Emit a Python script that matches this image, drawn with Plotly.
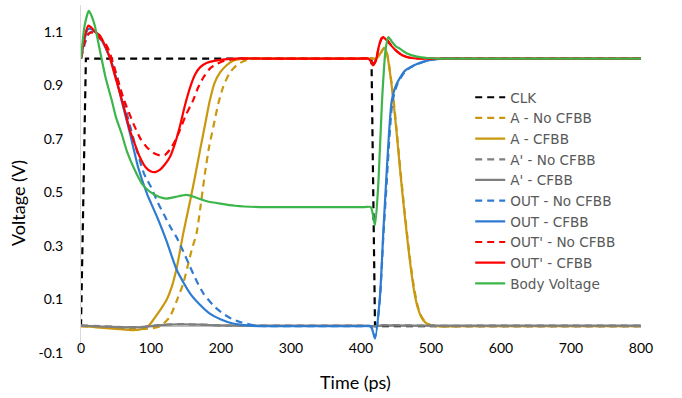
import plotly.graph_objects as go

# ---- data (time in ps, voltage in V) ----
clk_t = [0, 7, 415, 420, 800]
clk_v = [0, 1.0, 1.0, 0, 0]

a_no_t = [0, 40, 80, 100, 113, 120, 127, 136, 146, 152, 158, 165, 170, 177, 183, 189, 196, 203, 212, 222, 232, 241, 255,
          290, 330, 370, 400, 410, 415, 422, 428, 433, 437, 441, 446, 451, 456, 461, 466, 471, 476, 481, 487, 493, 500, 510,
          550, 600, 700, 800]
a_no_v = [0, -0.005, -0.01, -0.008, 0, 0.015, 0.035, 0.09, 0.159, 0.22, 0.284, 0.346, 0.433, 0.57, 0.67, 0.744, 0.83, 0.893, 0.945, 0.974, 0.99, 0.997, 1.0,
          1.0, 1.0, 1.0, 1.0, 1.0, 1.0, 1.0, 1.02, 1.04, 1.02, 0.96, 0.86, 0.73, 0.59, 0.46, 0.34, 0.23, 0.14, 0.075, 0.033, 0.013, 0.004, 0,
          0, 0, 0, 0]

a_cf_t = [0, 20, 40, 60, 75, 85, 96, 105, 113, 122, 130, 137, 146, 156, 163, 170, 177, 184, 191, 199, 208, 218, 235,
          270, 310, 350, 390, 405, 415, 422, 428, 433, 437, 441, 446, 451, 456, 461, 466, 471, 476, 481, 487, 493, 500, 510,
          550, 600, 700, 800]
a_cf_v = [0, -0.003, -0.008, -0.012, -0.015, -0.012, 0, 0.03, 0.06, 0.097, 0.15, 0.221, 0.346, 0.47, 0.56, 0.657, 0.75, 0.843, 0.91, 0.949, 0.975, 0.993, 1.0,
          1.0, 1.0, 1.0, 1.0, 1.0, 1.0, 1.0, 1.02, 1.04, 1.02, 0.955, 0.85, 0.72, 0.58, 0.45, 0.33, 0.22, 0.13, 0.07, 0.03, 0.012, 0.003, 0,
          0, 0, 0, 0]

ap_no_t = [0, 30, 60, 90, 110, 140, 170, 200, 250, 300, 350, 400, 420, 430, 500, 600, 700, 800]
ap_no_v = [0.003, 0.0, -0.003, -0.002, 0.004, 0.008, 0.006, 0.003, 0.002, 0.002, 0.002, 0.002, 0.0, 0.004, 0.002, 0.002, 0.002, 0.002]
ap_cf_t = [0, 30, 60, 90, 110, 140, 170, 200, 250, 300, 350, 400, 420, 430, 500, 600, 700, 800]
ap_cf_v = [0.002, -0.001, -0.004, -0.003, 0.003, 0.007, 0.006, 0.003, 0.002, 0.002, 0.002, 0.002, 0.0, 0.003, 0.002, 0.002, 0.002, 0.002]

out_no_t = [0, 10, 15, 25, 35, 46, 60, 75, 90, 100, 110, 120, 130, 137, 146, 156, 165, 175, 190, 203, 215, 227, 250, 270,
            300, 340, 380, 405, 414, 420, 427, 432, 437, 441, 445, 452, 464, 481, 500, 520, 560, 620, 700, 800]
out_no_v = [1.0, 1.09, 1.10, 1.08, 1.05, 0.98, 0.85, 0.70, 0.57, 0.52, 0.46, 0.41, 0.36, 0.33, 0.28, 0.221, 0.17, 0.122, 0.075, 0.047, 0.028, 0.016, 0.002, 0,
            0, 0, 0, 0, 0, -0.04, 0.10, 0.34, 0.55, 0.72, 0.84, 0.905, 0.955, 0.98, 0.995, 1.0, 1.0, 1.0, 1.0, 1.0]

out_cf_t = [0, 5, 10, 15, 20, 27, 35, 43, 50, 58, 70, 82, 95, 100, 110, 122, 137, 156, 170, 184, 200, 217, 241, 260,
            290, 330, 370, 400, 414, 420, 427, 432, 436, 440, 444, 451, 463, 480, 499, 520, 560, 620, 700, 800]
out_cf_v = [1.0, 1.07, 1.11, 1.11, 1.10, 1.08, 1.04, 0.99, 0.93, 0.843, 0.72, 0.59, 0.49, 0.46, 0.40, 0.32, 0.209, 0.122, 0.08, 0.047, 0.025, 0.01, 0.002, 0,
            0, 0, 0, 0, 0, -0.046, 0.109, 0.358, 0.545, 0.72, 0.843, 0.906, 0.955, 0.98, 0.995, 1.0, 1.0, 1.0, 1.0, 1.0]

outp_no_t = [0, 5, 10, 15, 25, 34, 40, 46, 60, 75, 85, 94, 105, 113, 120, 127, 134, 141, 150, 160, 167, 175, 185, 194, 205, 220, 240,
             280, 320, 360, 395, 410, 415, 418, 422, 426, 430, 434, 438, 443, 450, 458, 467, 477, 490, 530, 600, 700, 800]
outp_no_v = [1.0, 1.06, 1.09, 1.098, 1.08, 1.06, 1.03, 0.98, 0.856, 0.756, 0.70, 0.669, 0.645, 0.638, 0.64, 0.66, 0.69, 0.731, 0.79, 0.843, 0.89, 0.93, 0.965, 0.98, 0.992, 0.998, 1.0,
             1.0, 1.0, 1.0, 1.0, 1.0, 0.99, 0.98, 1.0, 1.05, 1.075, 1.078, 1.068, 1.05, 1.03, 1.014, 1.005, 1.001, 1.0, 1.0, 1.0, 1.0, 1.0]

outp_cf_t = [0, 5, 10.5, 15, 20, 27, 34, 41, 48, 56, 63, 70, 77, 84, 92, 100, 106, 113, 120, 127, 134, 141, 148, 156, 163, 170, 180, 199, 220,
             260, 300, 340, 380, 400, 410, 414, 417, 421, 425, 429, 432, 436, 441, 448, 456, 465, 475, 490, 530, 600, 700, 800]
outp_cf_v = [1.0, 1.08, 1.123, 1.115, 1.10, 1.086, 1.05, 1.005, 0.94, 0.868, 0.80, 0.731, 0.68, 0.632, 0.595, 0.578, 0.576, 0.585, 0.605, 0.632, 0.68, 0.744, 0.82, 0.893, 0.94, 0.967, 0.984, 0.995, 1.0,
             1.0, 1.0, 1.0, 1.0, 1.0, 1.0, 0.99, 0.975, 0.99, 1.04, 1.075, 1.08, 1.07, 1.055, 1.035, 1.017, 1.006, 1.001, 1.0, 1.0, 1.0, 1.0, 1.0]

body_t = [0, 5, 11, 15, 20, 27, 35, 44, 50, 58, 66, 75, 87, 95, 103, 112, 122, 135, 151, 165, 180, 199, 220, 256, 300, 350, 390, 405, 414,
          420, 425, 430, 435, 439, 445, 450, 456, 465, 480, 495, 510, 550, 620, 700, 800]
body_v = [1.0, 1.12, 1.178, 1.16, 1.12, 1.03, 0.93, 0.843, 0.78, 0.72, 0.65, 0.594, 0.533, 0.51, 0.495, 0.483, 0.477, 0.483, 0.491, 0.48, 0.467, 0.458, 0.45, 0.445, 0.445, 0.445, 0.445, 0.445, 0.445,
          0.377, 0.545, 0.84, 1.03, 1.08, 1.06, 1.045, 1.036, 1.02, 1.007, 1.002, 1.0, 1.0, 1.0, 1.0, 1.0]

names = ["CLK", "A - No CFBB", "A - CFBB", "A' - No CFBB", "A' - CFBB",
         "OUT - No CFBB", "OUT - CFBB", "OUT' - No CFBB", "OUT' - CFBB", "Body Voltage"]
xs = [clk_t, a_no_t, a_cf_t, ap_no_t, ap_cf_t, out_no_t, out_cf_t, outp_no_t, outp_cf_t, body_t]
ys = [clk_v, a_no_v, a_cf_v, ap_no_v, ap_cf_v, out_no_v, out_cf_v, outp_no_v, outp_cf_v, body_v]
colors = ["#000000", "#C9980F", "#C9980F", "#7F7F7F", "#7F7F7F",
          "#2E7BCF", "#2E7BCF", "#FF0000", "#FF0000", "#3CB54A"]
dashed = [True, True, False, True, False, True, False, True, False, False]

fig = go.Figure()
for i in range(len(names)):
    shape = "linear" if i == 0 else "spline"
    fig.add_trace(go.Scatter(
        x=xs[i], y=ys[i], name=names[i], mode="lines",
        line=dict(color=colors[i], width=2.2, dash="7px,5px" if dashed[i] else "solid",
                  shape=shape, smoothing=0.6),
    ))

pw, ph = 682 - 81 - 41, 398 - 5 - 45

fig.update_layout(
    width=682, height=398,
    margin=dict(l=81, r=41, t=5, b=45),
    paper_bgcolor="white", plot_bgcolor="white",
    font=dict(family="Lato, sans-serif", color="#000000"),
    showlegend=True,
    legend=dict(x=0.695, y=0.779, xanchor="left", yanchor="top",
                bgcolor="rgba(0,0,0,0)",
                font=dict(family="DejaVu Sans, sans-serif", size=13.6, color="#595959"),
                itemwidth=30),
    xaxis=dict(range=[0, 800], tickvals=[0, 100, 200, 300, 400, 500, 600, 700, 800],
               showgrid=False, zeroline=False, showline=False,
               anchor="free", position=0.042, ticks="",
               tickfont=dict(size=14, color="#000000")),
    yaxis=dict(range=[-0.1, 1.2], tickvals=[-0.1, 0.1, 0.3, 0.5, 0.7, 0.9, 1.1],
               ticktext=["-0.1", "0.1", "0.3", "0.5", "0.7", "0.9", "1.1"],
               showgrid=False, zeroline=True, zerolinecolor="#BFBFBF", zerolinewidth=1,
               showline=True, linecolor="#D9D9D9", linewidth=1, ticks="",
               ticklabelstandoff=14,
               tickfont=dict(size=14, color="#000000")),
    annotations=[
        dict(text="Time (ps)", x=(355 - 81) / pw, y=1 - (382 - 5) / ph,
             xref="paper", yref="paper", xanchor="center", yanchor="middle",
             showarrow=False, font=dict(size=18, color="#000000")),
        dict(text="Voltage (V)", x=(18 - 81) / pw, y=1 - (203 - 5) / ph,
             xref="paper", yref="paper", xanchor="center", yanchor="middle",
             textangle=-90, showarrow=False, font=dict(size=18, color="#000000")),
    ],
)

fig.write_html("out.html")
